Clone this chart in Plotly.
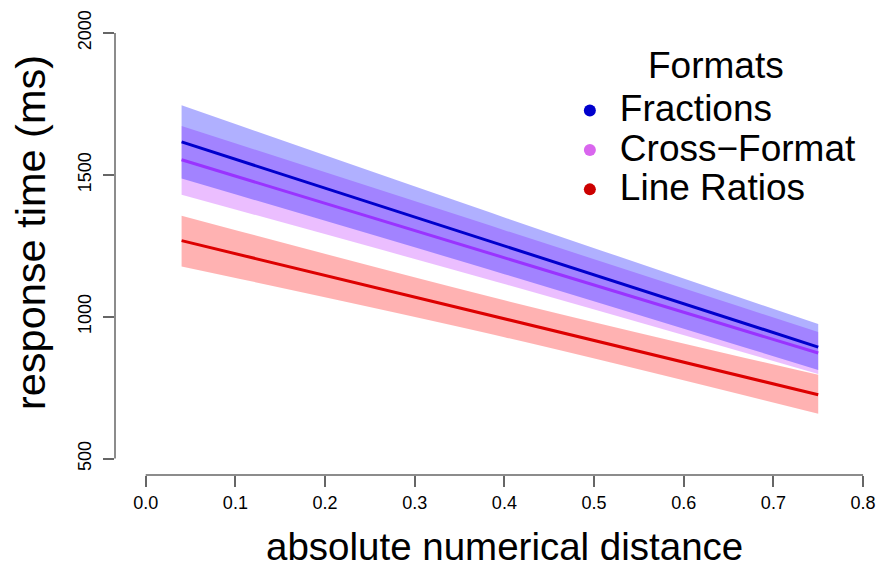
import plotly.graph_objects as go

# ---- data ----
x_line = [0.04, 0.75]
frac_fit = [1616, 893]
cross_fit = [1553, 872]
line_fit = [1268, 725]

x_band = [0.04, 0.40, 0.75]
frac_hi = [1745, 1350, 974]
frac_lo = [1487, 1150, 812]
cross_hi = [1672, 1305, 946]
cross_lo = [1430, 1115, 798]
line_hi = [1356, 1058, 795]
line_lo = [1177, 928, 658]

x_ticks = [0.0, 0.1, 0.2, 0.3, 0.4, 0.5, 0.6, 0.7, 0.8]
x_ticktext = ["0.0", "0.1", "0.2", "0.3", "0.4", "0.5", "0.6", "0.7", "0.8"]
y_ticks = [500, 1000, 1500, 2000]

series_names = ["Fractions", "Cross\u2212Format", "Line Ratios"]
legend_colors = ["#0000CD", "#D966EE", "#CC0000"]

FONT = "Liberation Sans, Arial, Helvetica, sans-serif"

fig = go.Figure()

bands = [
    (line_lo, line_hi, "rgba(255,0,0,0.30)"),
    (cross_lo, cross_hi, "rgba(190,40,255,0.30)"),
    (frac_lo, frac_hi, "rgba(0,0,255,0.31)"),
]
for lo, hi, col in bands:
    fig.add_trace(go.Scatter(x=x_band, y=lo, mode="lines", line=dict(width=0, shape="spline"),
                             showlegend=False, hoverinfo="skip"))
    fig.add_trace(go.Scatter(x=x_band, y=hi, mode="lines", line=dict(width=0, shape="spline"),
                             fill="tonexty", fillcolor=col, showlegend=False, hoverinfo="skip"))

for y, col in [(line_fit, "#DD0000"), (cross_fit, "#9933FF"), (frac_fit, "#0000CC")]:
    fig.add_trace(go.Scatter(x=x_line, y=y, mode="lines", line=dict(color=col, width=3),
                             showlegend=False))

for name, col in zip(series_names, legend_colors):
    fig.add_trace(go.Scatter(x=[None], y=[None], mode="markers",
                             name='<span style="font-size:37px">' + name + "</span>",
                             marker=dict(color=col, size=15)))

axis_col = "#666666"
fig.update_layout(
    width=886, height=567,
    margin=dict(l=115, r=10, t=20, b=92),
    plot_bgcolor="white", paper_bgcolor="white",
    font=dict(family=FONT, color="black"),
    xaxis=dict(range=[-31 / 905, 730 / 905], tickvals=x_ticks, ticktext=x_ticktext,
               ticks="outside", ticklen=11, tickwidth=1.5, tickcolor=axis_col,
               showgrid=False, zeroline=False, showline=False,
               tickfont=dict(size=18, family=FONT)),
    yaxis=dict(range=[442.1, 2038.6], tickvals=y_ticks, tickangle=-90,
               ticks="outside", ticklen=11, tickwidth=1.5, tickcolor=axis_col,
               showgrid=False, zeroline=False, showline=False,
               tickfont=dict(size=18, family=FONT), ticklabelstandoff=5),
    legend=dict(x=0.590, y=0.859, xanchor="left", yanchor="top", traceorder="normal",
                font=dict(size=28, family=FONT), bgcolor="rgba(0,0,0,0)",
                itemwidth=50, itemsizing="constant"),
    annotations=[
        dict(text="absolute numerical distance", xref="x", yref="paper",
             x=(x_ticks[0] + x_ticks[-1]) / 2, y=0, yanchor="middle", yshift=-71,
             showarrow=False, font=dict(size=38.5, family=FONT, color="black")),
        dict(text="response time (ms)", xref="paper", yref="paper", textangle=-90,
             x=0, y=0.534, xanchor="center", yanchor="middle", xshift=-85,
             showarrow=False, font=dict(size=41.5, family=FONT, color="black")),
        dict(text="Formats", xref="paper", yref="paper", x=0.7966, y=0.905,
             xanchor="center", yanchor="middle", showarrow=False,
             font=dict(size=37, family=FONT, color="black")),
    ],
    shapes=[
        dict(type="line", xref="x", yref="paper", x0=x_ticks[0], x1=x_ticks[-1], y0=0, y1=0,
             line=dict(color=axis_col, width=1.5)),
        dict(type="line", xref="paper", yref="y", x0=0, x1=0, y0=y_ticks[0], y1=y_ticks[-1],
             line=dict(color=axis_col, width=1.5)),
    ],
)

fig.write_html("out.html")
